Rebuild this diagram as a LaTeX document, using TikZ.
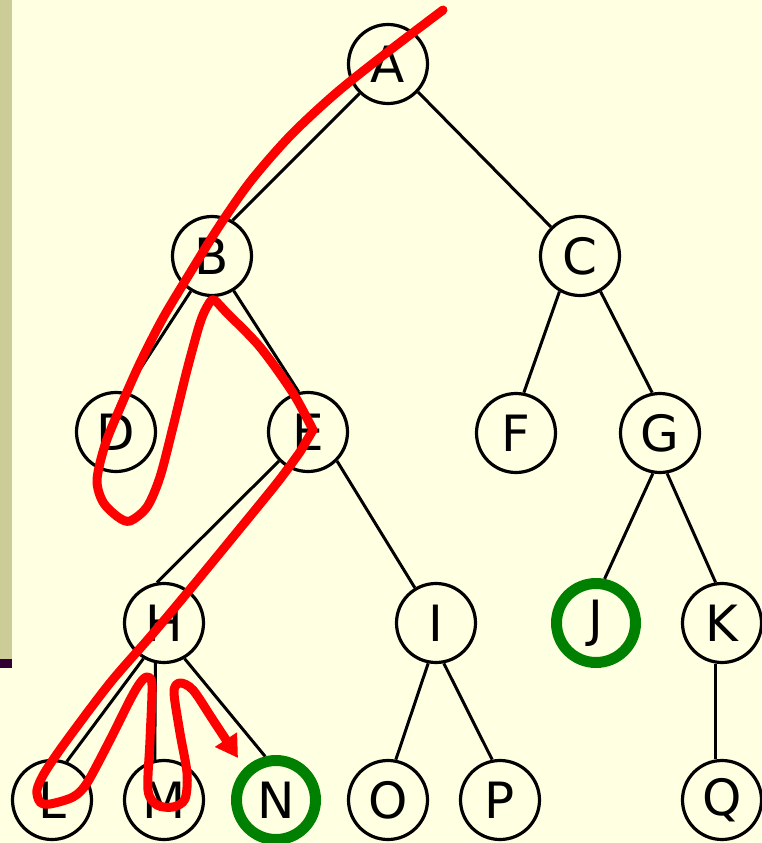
\documentclass[tikz,border=0pt]{standalone}
\usepackage{fontspec}
\usepackage{tikz}
\usetikzlibrary{arrows.meta}
\newfontfamily\treefont{DejaVu Sans}
\definecolor{slidebg}{HTML}{FFFFE1}
\definecolor{slidebar}{HTML}{CCCC99}
\definecolor{slideline}{HTML}{330033}
\definecolor{goalgreen}{HTML}{008000}
\tikzset{vert/.style = {circle, draw, line width = 3.2pt, minimum size = 79pt, inner sep = 0, font = \treefont\fontsize{50}{50}\selectfont}}
\tikzset{goal/.style = {vert, draw = goalgreen, line width = 11pt}}
\tikzset{edge/.style = {line width = 3pt}}
\tikzset{walk/.style = {red, line width = 9pt, line join = round, line cap = round}}

\begin{document}
\begin{tikzpicture}[x = 1pt, y = -1pt]
    \useasboundingbox (0, 0) rectangle (761, 843);
    \fill [slidebg] (0, 0) rectangle (761, 843);
    \fill [slidebar] (0, 0) rectangle (12, 659);
    \fill [slideline] (0, 659) rectangle (12, 668);
    % the tree
    \foreach \n/\x/\y in {A/388/64, B/212/256, C/580/256, D/116/432, E/308/432,
      F/516/433, G/660/433, H/164/623, I/436/623, K/722/623, L/52/800,
      M/164/800, O/388/800, P/500/800, Q/722/800}{
      \node [vert] (\n) at (\x, \y) {\n};
    }
    \node [goal] (J) at (596, 623) {J};
    \node [goal] (N) at (276, 800) {N};
    \foreach \a/\p/\b/\q in {A/226/B/60, A/-43/C/135, B/239/D/77, B/302/E/103,
      C/240/F/79, C/300/G/101, E/225/H/100, E/-45/I/121, G/260/J/79, G/280/K/99,
      H/240/L/69, H/258/M/103, H/300/N/104, I/259/O/79, I/281/P/101, K/261/Q/99}{
      \draw [edge] (\a.\p) -- (\b.\q);
    }
    % depth-first walk down to N
    \draw [walk, -{Triangle[length=22pt, width=25pt]}]
      plot [smooth, tension = 0.5] coordinates {(443, 10) (385, 54) (335, 94)
        (290, 136) (250, 182) (218, 228) (190, 273) (163, 318) (140, 363)
        (120, 408) (105, 445) (97, 480) (103, 502) (118, 517) (130, 521)
        (147, 507) (160, 477) (173, 427) (187, 370) (200, 323) (208, 305)
        (214, 300) (227, 313) (260, 347) (293, 393) (313, 430)}
      -- plot [smooth, tension = 0.5] coordinates {(300, 452) (277, 483)
        (233, 537) (187, 593) (150, 637) (110, 683) (67, 740) (45, 772)
        (37, 790) (40, 802) (50, 804) (73, 797) (87, 783) (110, 740)
        (130, 700) (140, 683) (147, 677) (152, 685) (150, 740) (148, 790)
        (157, 805) (173, 807) (185, 799) (187, 773) (180, 733) (174, 692)
        (180, 683) (193, 690) (213, 720) (238, 758)};
\end{tikzpicture}
\end{document}
